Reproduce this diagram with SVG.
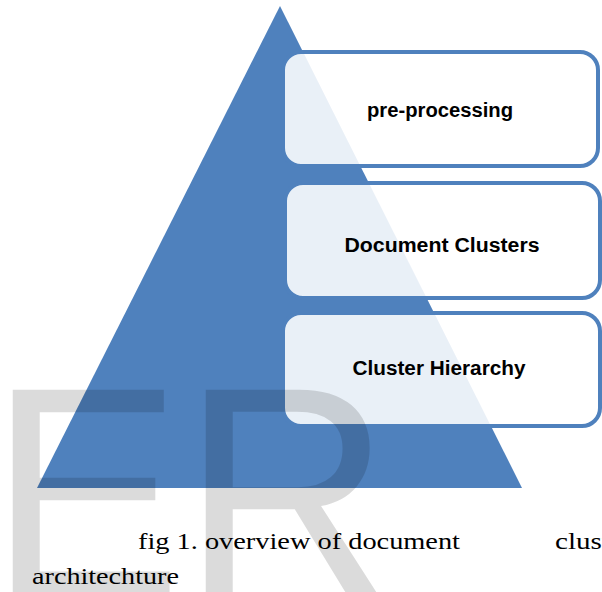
<svg xmlns="http://www.w3.org/2000/svg" width="602" height="592" viewBox="0 0 602 592">
<style>
.box{fill:#ffffff;fill-opacity:0.88;stroke:#4F81BD;stroke-width:4}
.lbl{font-family:"Liberation Sans",Arial,sans-serif;font-weight:bold;font-size:20px;fill:#000;text-anchor:middle}
.cap{font-family:"Liberation Serif","Times New Roman",serif;font-size:24px;fill:#000}
.wm{font-family:"Liberation Sans",Arial,sans-serif;font-size:297px;fill:#000;fill-opacity:0.14}
</style>
<rect width="602" height="592" fill="#ffffff"/>
<g id="pyramid">
<polygon points="280,6 522,488 37,488" fill="#4F81BD"/>
</g>
<g id="connectors"></g>
<g id="node-preprocessing">
<rect class="box" x="283" y="52" width="315" height="114" rx="18"/>
<text class="lbl" x="440" y="117" textLength="146" lengthAdjust="spacingAndGlyphs">pre-processing</text>
</g>
<g id="node-document-clusters">
<rect class="box" x="285" y="183" width="315" height="115" rx="18"/>
<text class="lbl" x="442" y="252" textLength="195" lengthAdjust="spacingAndGlyphs">Document  Clusters</text>
</g>
<g id="node-cluster-hierarchy">
<rect class="box" x="283" y="313" width="317" height="113" rx="18"/>
<text class="lbl" x="439" y="375" textLength="173" lengthAdjust="spacingAndGlyphs">Cluster Hierarchy</text>
</g>
<g id="watermark">
<text class="wm" x="-11" y="594" textLength="402" lengthAdjust="spacingAndGlyphs">ER</text>
</g>
<g id="caption">
<text class="cap" x="138" y="549" textLength="322" lengthAdjust="spacingAndGlyphs">fig 1.  overview of document</text>
<text class="cap" x="555" y="549" textLength="55" lengthAdjust="spacingAndGlyphs">clust</text>
<text class="cap" x="32" y="584" textLength="147" lengthAdjust="spacingAndGlyphs">architechture</text>
</g>
</svg>
